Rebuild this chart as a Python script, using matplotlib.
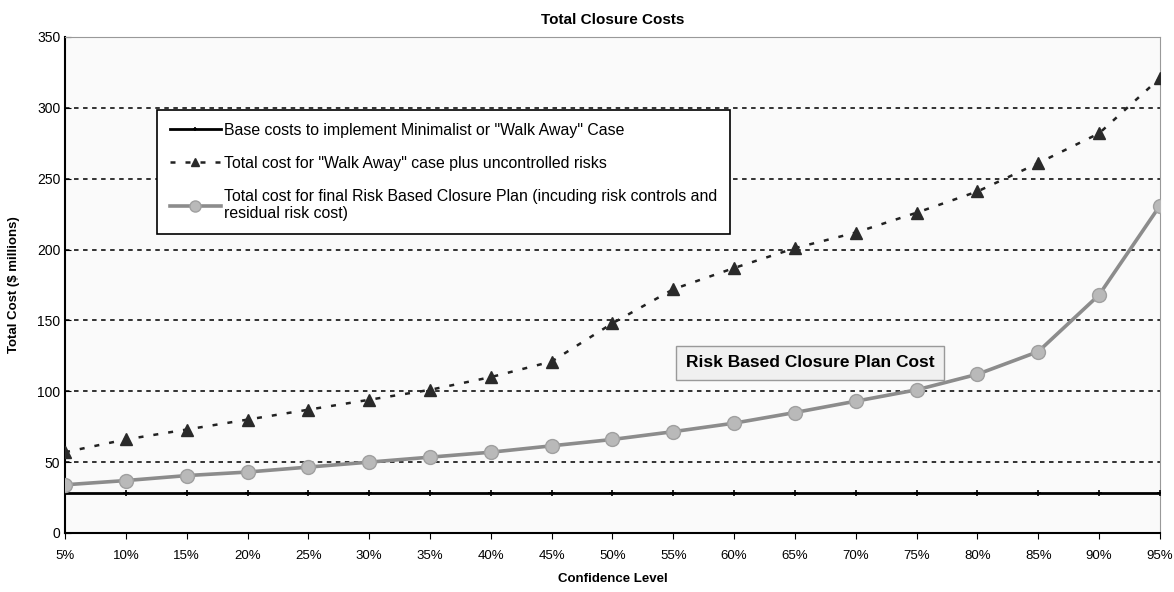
import matplotlib.pyplot as plt

plt.rcParams['font.family'] = ['Liberation Sans', 'DejaVu Sans']

levels = ["5%", "10%", "15%", "20%", "25%", "30%", "35%", "40%", "45%", "50%",
          "55%", "60%", "65%", "70%", "75%", "80%", "85%", "90%", "95%"]
base_cost = [28] * 19
walk_away = [57, 66, 73, 80, 87, 94, 101, 110, 121, 148,
             172, 187, 201, 212, 226, 241, 261, 282, 321]
risk_plan = [34, 37, 40.5, 43, 46.5, 50, 53.5, 57, 61.5, 66,
             71.5, 77.5, 85, 93, 101, 112, 128, 168, 231]

x = list(range(len(levels)))

fig = plt.figure(figsize=(11.74, 5.92), dpi=100)
ax = fig.add_axes([0.0554, 0.0997, 0.9326, 0.8378])
ax.set_facecolor("#fafafa")

for yv in [50, 100, 150, 200, 250, 300]:
    ax.axhline(yv, color="#222222", lw=1.3, ls=(0, (2.5, 2.5)), zorder=1)

ax.plot(x, base_cost, color="black", lw=2, marker="+", ms=4, mew=1.2,
        label='Base costs to implement Minimalist or "Walk Away" Case', zorder=3)
ax.plot(x, walk_away, color="#222222", lw=1.8, ls=(0, (2, 4)), marker="^",
        ms=8, mfc="#2a2a2a", mec="#2a2a2a",
        label='Total cost for "Walk Away" case plus uncontrolled risks', zorder=3)
ax.plot(x, risk_plan, color="#8c8c8c", lw=2.6, marker="o", ms=10,
        mfc="#b9b9b9", mec="#a0a0a0", mew=1,
        label="Total cost for final Risk Based Closure Plan (incuding risk controls and\nresidual risk cost)",
        zorder=4)

ax.set_xlim(0, 18)
ax.set_ylim(0, 350)
ax.set_xticks(x)
ax.set_xticklabels(levels, fontsize=9.5)
ax.set_yticks(range(0, 351, 50))
ax.tick_params(axis="y", labelsize=10, length=4, direction="in")
ax.tick_params(axis="x", length=4, direction="out", pad=8)

ax.spines["top"].set_color("#999999")
ax.spines["right"].set_color("#999999")
ax.spines["left"].set_color("black")
ax.spines["bottom"].set_color("black")
ax.spines["left"].set_linewidth(1.5)
ax.spines["bottom"].set_linewidth(1.5)

ax.set_title("Total Closure Costs", fontsize=11, fontweight="bold", pad=9)
ax.set_xlabel("Confidence Level", fontsize=9.5, fontweight="bold", labelpad=8)
ax.set_ylabel("Total Cost ($ millions)", fontsize=9.5, fontweight="bold", labelpad=12)

leg = ax.legend(loc="upper left", bbox_to_anchor=(0.077, 0.869), fontsize=11.4,
                frameon=True, fancybox=False, edgecolor="black", facecolor="white",
                framealpha=1, borderpad=0.8, labelspacing=1.15, handlelength=3.2,
                handletextpad=0.2, markerscale=0.8)
leg.get_frame().set_linewidth(1.2)

ax.text(12.25, 120, "Risk Based Closure Plan Cost", fontsize=12.5, fontweight="bold",
        ha="center", va="center", zorder=6,
        bbox=dict(boxstyle="square,pad=0.55", fc="#f0f0f0", ec="#999999", lw=1))

fig.savefig("out.png", dpi=100)
